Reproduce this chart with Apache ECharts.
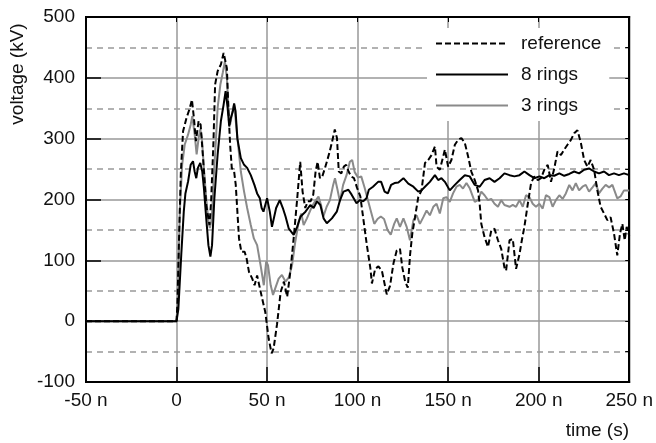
<!DOCTYPE html>
<html>
<head>
<meta charset="utf-8">
<script src="https://cdn.jsdelivr.net/npm/echarts@6/dist/echarts.min.js"></script>
<style>
html,body{margin:0;padding:0;background:#fff;}
#chart{width:656px;height:443px;}
</style>
</head>
<body>
<div id="chart"></div>
<script>
// ---- data (time in ns, voltage in kV) ----
const refT = [-50,-20,0,0.5,1.5,2.4,3.6,5.5,7.3,8.5,9.6,10.7,12.2,13.3,14.5,16.4,18.2,19.1,20.4,21.3,22.7,24.5,26,26.7,27.8,28.7,29.6,30.5,31.8,32.7,33.6,34.5,35.8,37.6,38.7,40,41.8,43.1,44.5,47.3,49,50.9,52.5,53.6,55.5,57.5,59.3,61.1,63,64.8,66.6,68.3,69.6,71.1,72.5,74,75.5,76.8,77.9,79.2,80.5,81.9,83.3,84.6,85.9,87.4,88.6,89.6,91,92.4,93.7,95,96.4,98,99.6,101.5,103.3,105.1,107,107.9,109.7,111.5,113.4,116.1,117.9,119.8,121.6,123.4,124.7,126.2,127.7,129,130.2,131.7,133.5,135.3,137.2,139,140.8,142.7,143.6,145.4,147.3,148.2,149.1,150,151.8,153.7,155.5,157.3,159.2,161,162.8,164.7,166.5,167.4,168.3,170.1,172,173.8,175.6,177.5,179.3,181.1,182,183.9,185.7,187.5,189.4,190.7,192.1,194,195.8,197.6,199.5,201.3,203.1,205,206.8,208.6,210.4,212.3,214.1,215.9,217.8,219.6,221.4,223.3,225.1,226.9,228.7,230.6,232.4,234.2,236.1,237.9,239.7,241.6,243.4,244.9,246.2,247.5,248.6,250];
const refV = [0,0,0,30,150,246,312,334,350,364,334,296,329,323,274,191,158,197,296,389,411,422,441,444,416,345,290,252,246,224,180,136,114,114,103,81,70,59,75,37,15,-29,-53,-45,-5,48,65,40,85,140,200,262,213,186,197,197,208,246,262,235,238,251,265,279,295,315,301,246,243,254,257,246,238,235,220,205,165,125,88,62,86,90,83,44,58,95,116,119,88,66,55,110,144,171,204,215,260,265,273,287,254,249,271,282,268,254,265,290,298,301,293,271,246,232,215,193,160,138,122,149,152,133,119,88,83,133,135,86,110,133,155,193,227,238,232,235,249,257,229,251,279,273,282,290,298,309,314,293,265,254,265,249,215,188,177,166,171,144,108,144,160,133,155,140];

const r8T = [-50,-20,0,1,2.7,4,4.9,6.4,7.8,9.1,10,10.9,11.8,13.1,14.2,15.1,16.4,17.6,18.7,19.6,20.9,22.7,24.5,26,27.1,28.2,29.1,30,31.1,31.8,32.6,33.6,35.5,37.3,39,41,43,44.5,46,47,48,50,51.5,52.7,53.6,55,57,58.7,60.2,62,64.7,66.6,68.5,71.2,73.9,75.7,77.6,79.4,81.2,83,85.8,88.5,90.3,92.2,94.9,96.7,99.4,101.3,103.1,104.9,106.2,108.5,111.3,113,114.9,116.7,118.5,120.4,122.5,125.3,128,130.8,133.5,135.3,137.2,139.9,142.7,144.5,146.3,148.2,150.9,153.7,156.4,159.2,161.9,164.7,167.4,170.1,172.9,175.6,178.4,181.1,183.9,186.6,189.4,192.1,194.9,197.6,200.4,203.1,205.9,208.6,211.4,214.1,216.9,219.6,222.3,225.1,227.8,230.6,233.3,236.1,238.8,241.6,244.3,247.1,250];
const r8V = [0,0,0,20,114,180,210,230,257,263,246,235,252,260,246,219,169,125,106,125,202,274,329,356,378,351,320,334,345,358,345,300,268,257,252,240,224,210,202,186,180,202,180,155,158,186,199,186,172,152,142,155,172,180,191,186,197,191,169,161,169,180,199,213,216,208,194,199,197,202,216,221,229,229,213,210,224,227,228,235,226,221,213,215,221,229,240,232,235,229,215,224,232,240,238,224,221,232,235,229,235,243,240,238,240,246,240,235,238,235,240,239,243,239,242,246,243,249,251,246,243,246,240,243,240,243,240];

const r3T = [-50,-20,0,0.8,1.8,3.1,4.5,6.4,7.8,8.7,10,11.1,12.2,13.1,14,15.1,16.4,17.6,18.4,19.5,20.5,21.8,22.7,24.2,25.5,26.7,27.8,28.7,29.6,30.9,31.8,32.7,34,35.5,37.3,39,41,42.7,44.5,46.4,48.2,49.5,50.5,52,53.3,54.5,56.4,58.2,60.2,62,63.8,65.6,67.5,68.9,70.2,72,74.7,76.5,78.4,79.8,81.1,82.9,84.7,86.5,87.5,88.9,90.2,92,93.9,95.7,97,98.4,100.2,102,103.8,105.6,107.4,109.2,111,112.8,114.6,116.5,118.3,120.2,121.6,123.4,125.3,127.1,128.9,130.8,132.6,134.4,136.3,138.1,139.9,141.8,143.6,145.4,147.3,149.1,150.9,152.7,154.6,156.4,158.2,160.1,162,164.7,166.5,168.3,170.1,172,173.8,175.6,177.5,179.3,181.1,183.9,185.7,187.5,189.4,191.2,193,194.9,196.7,198.5,200.4,202.2,204,205.9,207.7,209.5,211.4,213.2,215,216.9,218.7,220.5,222.3,224.2,226,227.8,229.7,231.5,233.3,235.2,237,238.9,240.7,243.4,245.2,247.1,250];
const r3V = [0,0,0,40,180,257,290,307,323,337,307,274,301,315,301,252,202,164,153,169,235,301,351,389,408,427,400,345,323,345,356,329,290,246,213,186,158,136,125,92,59,98,92,59,43,54,70,76,65,72,92,131,164,177,158,169,188,197,205,191,172,188,199,224,235,216,197,224,240,262,265,245,236,238,220,200,180,160,168,172,168,150,142,160,169,155,169,155,133,166,174,160,171,182,174,188,193,177,202,204,196,210,221,224,218,227,218,196,199,213,207,199,201,193,188,199,191,188,191,188,199,188,207,204,193,188,193,185,207,204,188,199,207,201,210,224,215,227,215,221,224,213,220,227,210,218,224,220,224,202,205,215,215];

const seriesNames = ['reference', '8 rings', '3 rings'];
const xTicks = [-50, 0, 50, 100, 150, 200, 250];
const yTicks = [-100, 0, 100, 200, 300, 400, 500];

function zip(t, v) { return t.map((x, i) => [x, v[i]]); }

const FONT = '"Liberation Sans", Arial, sans-serif';
const FS = 19;
const chart = echarts.init(document.getElementById('chart'), null, {renderer: 'canvas'});

const option = {
  animation: false,
  backgroundColor: '#fff',
  textStyle: {fontFamily: FONT},
  grid: {left: 86, right: 25, top: 17, bottom: 61, show: true, borderColor: '#000', borderWidth: 2, backgroundColor: 'transparent'},
  legend: {
    orient: 'vertical', left: 427, top: 28, padding: [6, 8, 6, 8],
    backgroundColor: '#fff', itemWidth: 72, itemHeight: 18, itemGap: 12,
    data: seriesNames,
    itemStyle: {opacity: 0},
    textStyle: {fontSize: FS, color: '#111', fontFamily: FONT, padding: [0, 0, 0, 8]}
  },
  xAxis: [{
    type: 'value', min: xTicks[0], max: xTicks[xTicks.length - 1], interval: 50,
    axisLine: {show: true, onZero: false, lineStyle: {color: '#000', width: 2}},
    axisTick: {show: true, inside: true, length: 15, lineStyle: {color: '#000', width: 1.5}},
    axisLabel: {fontSize: FS, color: '#111', margin: 9, fontFamily: FONT,
      formatter: v => v === 0 ? '0' : v + ' n'},
    splitLine: {show: true, lineStyle: {color: '#999', width: 1.5}}
  }, {
    type: 'value', position: 'top', min: xTicks[0], max: xTicks[xTicks.length - 1], interval: 50,
    axisLine: {show: true, onZero: false, lineStyle: {color: '#000', width: 2}},
    axisTick: {show: true, inside: true, length: 5, lineStyle: {color: '#000'}},
    axisLabel: {show: false}, splitLine: {show: false}
  }],
  yAxis: [{
    type: 'value', min: yTicks[0], max: yTicks[yTicks.length - 1], interval: 100,
    axisLine: {show: true, onZero: false, lineStyle: {color: '#000', width: 2}},
    axisTick: {show: true, inside: true, length: 15, lineStyle: {color: '#000', width: 1.5}},
    axisLabel: {fontSize: FS, color: '#111', margin: 11, fontFamily: FONT},
    splitLine: {show: true, lineStyle: {color: '#999', width: 1.5}},
    minorTick: {show: false, splitNumber: 2},
    minorSplitLine: {show: true, lineStyle: {color: '#999', width: 1.5, type: [6, 5]}}
  }, {
    type: 'value', position: 'right', min: yTicks[0], max: yTicks[yTicks.length - 1], interval: 50,
    axisLine: {show: true, onZero: false, lineStyle: {color: '#000', width: 2}},
    axisTick: {show: true, inside: true, length: 4, lineStyle: {color: '#000'}},
    axisLabel: {show: false}, splitLine: {show: false}
  }],
  graphic: [
    {type: 'text', x: 18, y: 74, rotation: Math.PI / 2,
      style: {text: 'voltage (kV)', font: FS + 'px ' + FONT, fill: '#111', align: 'center', verticalAlign: 'middle'}},
    {type: 'text', x: 629, y: 431,
      style: {text: 'time (s)', font: FS + 'px ' + FONT, fill: '#111', align: 'right', verticalAlign: 'middle'}}
  ],
  series: [
    {name: seriesNames[0], type: 'line', data: zip(refT, refV), symbol: 'none', z: 5,
      lineStyle: {color: '#000', width: 2, type: [6, 3]}, itemStyle: {color: '#000'}},
    {name: seriesNames[1], type: 'line', data: zip(r8T, r8V), symbol: 'none', z: 4,
      lineStyle: {color: '#000', width: 2}, itemStyle: {color: '#000'}},
    {name: seriesNames[2], type: 'line', data: zip(r3T, r3V), symbol: 'none', z: 3,
      lineStyle: {color: '#8a8a8a', width: 2}, itemStyle: {color: '#8a8a8a'}}
  ]
};
chart.setOption(option);
</script>
</body>
</html>
